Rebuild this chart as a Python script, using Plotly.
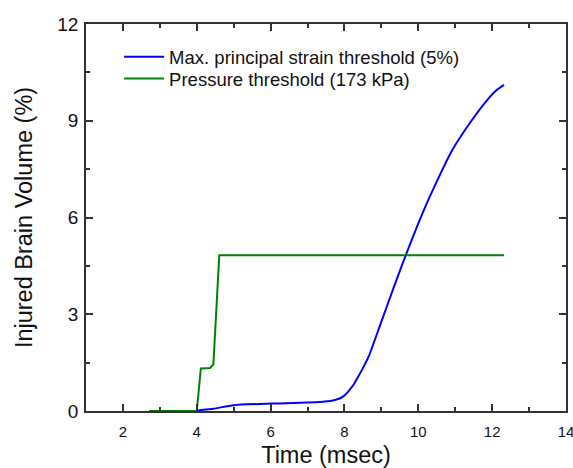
import plotly.graph_objects as go

# Max. principal strain threshold (5%)
strain_t = [4.0, 4.05, 4.45, 5.0, 6.0, 7.0, 7.62, 7.85, 7.98, 8.1, 8.25, 8.35, 8.5, 8.66, 8.98, 9.34, 9.66,
            10.15, 10.56, 10.92, 11.42, 11.87, 12.1, 12.32]
strain_v = [0.0, 0.02, 0.07, 0.18, 0.23, 0.26, 0.31, 0.38, 0.46, 0.6, 0.82, 1.02, 1.33, 1.7, 2.71, 3.85, 4.83,
            6.23, 7.26, 8.09, 8.97, 9.65, 9.93, 10.11]

# Pressure threshold (173 kPa)
press_t = [2.71, 4.0, 4.11, 4.2, 4.36, 4.45, 4.61, 12.32]
press_v = [0.0, 0.0, 1.32, 1.32, 1.33, 1.45, 4.83, 4.83]

FONT = "Arial, Liberation Sans, sans-serif"

fig = go.Figure()
fig.add_trace(go.Scatter(x=strain_t, y=strain_v, mode="lines", line=dict(color="#0000FF", width=2, shape="spline", smoothing=0.6),
                         name="Max. principal strain threshold (5%)", legend="legend", showlegend=True))
fig.add_trace(go.Scatter(x=press_t, y=press_v, mode="lines", line=dict(color="#008000", width=2),
                         name="Pressure threshold (173 kPa)", legend="legend2", showlegend=True))

axis_common = dict(showline=True, linecolor="#333333", linewidth=1.5, mirror="allticks",
                   ticks="inside", ticklen=7, tickwidth=1.5, tickcolor="#333333",
                   showgrid=False, zeroline=False, automargin=False, ticklabeloverflow="allow")

fig.update_xaxes(range=[1, 14], tickvals=[2, 4, 6, 8, 10, 12, 14], ticklabelstandoff=6,
                 tickfont=dict(family=FONT, size=15, color="#111111"),
                 minor=dict(ticks="inside", tickvals=[3, 5, 7, 9, 11, 13], ticklen=4, tickwidth=1.5, tickcolor="#333333"),
                 title=dict(text="Time (msec)", font=dict(family=FONT, size=23.5, color="#111111"), standoff=10),
                 **axis_common)
fig.update_yaxes(range=[0, 12], tickvals=[0, 3, 6, 9, 12], ticklabelstandoff=2,
                 tickfont=dict(family=FONT, size=19, color="#111111"),
                 minor=dict(ticks="inside", tickvals=[1.5, 4.5, 7.5, 10.5], ticklen=4, tickwidth=1.5, tickcolor="#333333"),
                 title=dict(text="Injured Brain Volume (%)", font=dict(family=FONT, size=23.5, color="#111111"), standoff=18),
                 **axis_common)

legend_common = dict(xanchor="left", yanchor="top", bgcolor="rgba(0,0,0,0)",
                     font=dict(family=FONT, size=18.5, color="#111111"), tracegroupgap=0, itemwidth=40)

fig.update_layout(width=573, height=468, margin=dict(l=86, r=7, t=24, b=57),
                  paper_bgcolor="white", plot_bgcolor="white", showlegend=True,
                  legend=dict(x=0.069, y=0.963, **legend_common),
                  legend2=dict(x=0.069, y=0.907, **legend_common))

fig.write_html("out.html", config={"displayModeBar": False},
               post_script="document.body.style.margin='0px';document.body.style.overflow='hidden';")
